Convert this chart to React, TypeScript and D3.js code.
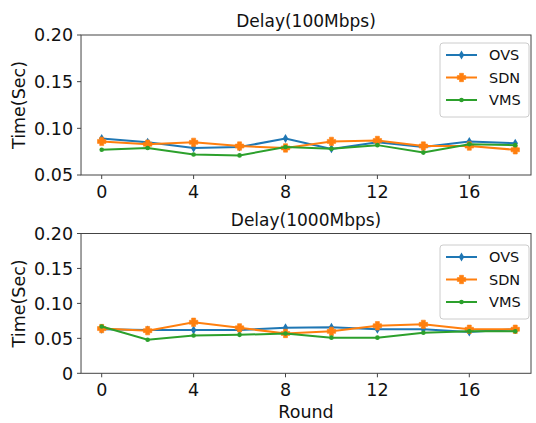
import React from 'react';
import * as d3 from 'd3';

const rounds = [0, 2, 4, 6, 8, 10, 12, 14, 16, 18];
const seriesNames = ['OVS', 'SDN', 'VMS'];
const seriesColors = ['#1f77b4', '#ff7f0e', '#2ca02c'];

// Delay(100Mbps)
const ovs100 = [0.089, 0.085, 0.079, 0.080, 0.089, 0.078, 0.085, 0.080, 0.086, 0.084];
const sdn100 = [0.086, 0.083, 0.085, 0.081, 0.079, 0.086, 0.087, 0.081, 0.081, 0.077];
const vms100 = [0.077, 0.079, 0.072, 0.071, 0.080, 0.078, 0.082, 0.074, 0.083, 0.082];

// Delay(1000Mbps)
const ovs1000 = [0.063, 0.062, 0.062, 0.062, 0.065, 0.066, 0.063, 0.063, 0.059, 0.063];
const sdn1000 = [0.064, 0.061, 0.073, 0.065, 0.057, 0.060, 0.068, 0.070, 0.063, 0.063];
const vms1000 = [0.067, 0.048, 0.054, 0.055, 0.057, 0.051, 0.051, 0.058, 0.060, 0.060];

const xTicks = [0, 4, 8, 12, 16];
const yTicksTop = [0.05, 0.10, 0.15, 0.20];
const yTicksBottom = [0, 0.05, 0.10, 0.15, 0.20];

const font = 'DejaVu Sans, sans-serif';
const x = d3.scaleLinear().domain([0, 16]).range([101.7, 469.3]);
const frameLeft = x(-0.9);
const frameRight = 531;

// matplotlib-ish marker shapes: thin diamond, filled plus, dot
function Marker({ kind, cx, cy, color }: { kind: number; cx: number; cy: number; color: string }) {
  if (kind === 0) {
    const w = 2.7, h = 4.5;
    return <path d={`M${cx},${cy - h}L${cx + w},${cy}L${cx},${cy + h}L${cx - w},${cy}Z`} fill={color} />;
  }
  if (kind === 1) {
    const a = 2, b = 4.2;
    const d = `M${cx - a},${cy - b}H${cx + a}V${cy - a}H${cx + b}V${cy + a}H${cx + a}V${cy + b}H${cx - a}V${cy + a}H${cx - b}V${cy - a}H${cx - a}Z`;
    return <path d={d} fill={color} stroke={color} strokeWidth={0.6} strokeLinejoin="round" />;
  }
  return <circle cx={cx} cy={cy} r={2.3} fill={color} />;
}

function Panel({ title, top, bottom, yDomain, yTicks, data, legendTop, showXLabel }: any) {
  const y = d3.scaleLinear().domain(yDomain).range([bottom, top]);
  const line = d3.line<number>().x((_, i) => x(rounds[i])).y(v => y(v));
  const fmt = (v: number) => (v === 0 ? '0' : v.toFixed(2));
  return (
    <g>
      <text x={(frameLeft + frameRight) / 2} y={top - 8} textAnchor="middle" fontSize={17} fill="#111">{title}</text>
      <rect x={frameLeft} y={top} width={frameRight - frameLeft} height={bottom - top} fill="none" stroke="#444" strokeWidth={1} />
      {yTicks.map((t: number) => (
        <g key={t}>
          <line x1={frameLeft - 4} x2={frameLeft} y1={y(t)} y2={y(t)} stroke="#444" />
          <text x={frameLeft - 8} y={y(t)} dy="0.36em" textAnchor="end" fontSize={17.5} fill="#111">{fmt(t)}</text>
        </g>
      ))}
      {xTicks.map(t => (
        <g key={t}>
          <line x1={x(t)} x2={x(t)} y1={bottom} y2={bottom + 4} stroke="#444" />
          <text x={x(t)} y={bottom + 23} textAnchor="middle" fontSize={17.5} fill="#111">{t}</text>
        </g>
      ))}
      <text transform={`translate(25,${(top + bottom) / 2}) rotate(-90)`} textAnchor="middle" fontSize={17.5} fill="#111">Time(Sec)</text>
      {showXLabel && (
        <text x={(frameLeft + frameRight) / 2} y={bottom + 45} textAnchor="middle" fontSize={17.5} fill="#111">Round</text>
      )}
      {data.map((vals: number[], si: number) => (
        <g key={si}>
          <path d={line(vals) || ''} fill="none" stroke={seriesColors[si]} strokeWidth={2} />
          {vals.map((v, i) => (
            <Marker key={i} kind={si} cx={x(rounds[i])} cy={y(v)} color={seriesColors[si]} />
          ))}
        </g>
      ))}
      <g transform={`translate(440,${legendTop})`}>
        <rect x={0} y={0} width={89} height={74} rx={3} fill="#fff" fillOpacity={0.8} stroke="#ccc" />
        {seriesNames.map((n, i) => (
          <g key={n} transform={`translate(0,${12 + i * 22.5})`}>
            <line x1={6} x2={37} y1={0} y2={0} stroke={seriesColors[i]} strokeWidth={2} />
            <Marker kind={i} cx={21.5} cy={0} color={seriesColors[i]} />
            <text x={49} y={0} dy="0.36em" fontSize={14.5} fill="#111">{n}</text>
          </g>
        ))}
      </g>
    </g>
  );
}

export default function App() {
  return (
    <svg width={536} height={423} style={{ position: 'absolute', left: 0, top: 0, background: '#fff' }} fontFamily={font}>
      <rect width={536} height={423} fill="#fff" />
      <Panel title="Delay(100Mbps)" top={35} bottom={175} yDomain={[0.05, 0.2]} yTicks={yTicksTop}
        data={[ovs100, sdn100, vms100]} legendTop={43} showXLabel={false} />
      <Panel title="Delay(1000Mbps)" top={233.5} bottom={373.3} yDomain={[0, 0.2]} yTicks={yTicksBottom}
        data={[ovs1000, sdn1000, vms1000]} legendTop={245} showXLabel={true} />
    </svg>
  );
}
